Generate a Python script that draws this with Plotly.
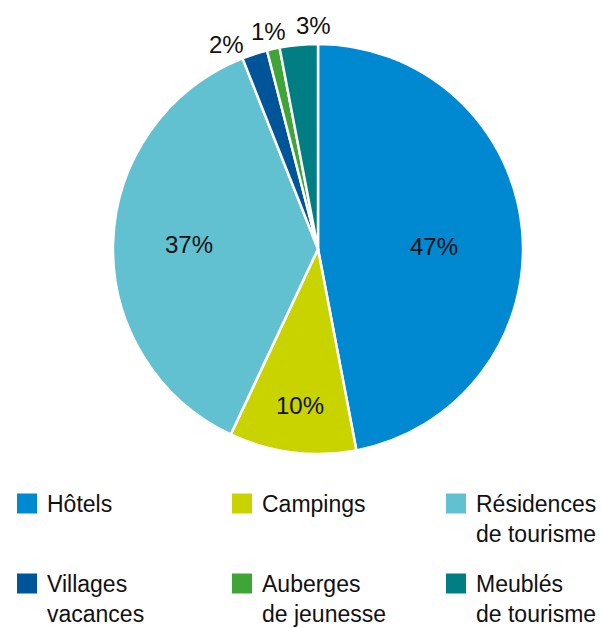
import math
import plotly.graph_objects as go

categories = ["Hôtels", "Campings", "Résidences de tourisme",
              "Villages vacances", "Auberges de jeunesse", "Meublés de tourisme"]
legend_labels = ["Hôtels", "Campings", "Résidences<br>de tourisme",
                 "Villages<br>vacances", "Auberges<br>de jeunesse", "Meublés<br>de tourisme"]
values = [47, 10, 37, 2, 1, 3]
colors = ["#0088D1", "#C9D300", "#62C1D0", "#005598", "#3FA536", "#007E83"]

# label placement styles (radius as fraction of pie radius, or outside) and pixel nudges
label_rfrac = [0.56, 0.75, 0.63, None, None, None]
label_xanchor = ["center", "center", "center", "right", "center", "left"]
label_xshift = [2, 1, 0, -8, -4, -5]
label_yshift = [-8, -4, 0, -8, 0, 2]

# legend grid (pixels): column left edges, row tops
legend_cols = [7, 222, 436, 7, 222, 436]
legend_rows = [482, 482, 482, 562, 562, 562]

W, H = 601, 628
CX, CY, R = 318, 249, 205
FONT = "Liberation Sans, Arial, Helvetica, sans-serif"

fig = go.Figure()
fig.add_trace(go.Pie(
    labels=categories,
    values=values,
    sort=False,
    direction="clockwise",
    rotation=0,
    marker=dict(colors=colors, line=dict(color="white", width=2.5)),
    textinfo="none",
    domain=dict(x=[(CX - R) / W, (CX + R) / W], y=[(H - CY - R) / H, (H - CY + R) / H]),
    showlegend=False,
    hoverinfo="skip",
))

legend_layouts = {}
for i, (name, col) in enumerate(zip(legend_labels, colors)):
    key = "legend" if i == 0 else f"legend{i + 1}"
    fig.add_trace(go.Scatter(
        x=[None], y=[None], mode="markers", name=name,
        marker=dict(symbol="square", size=16, color=col, line=dict(color=col, width=4)),
        showlegend=True, hoverinfo="skip", legend=key,
    ))
    legend_layouts[key] = dict(
        x=legend_cols[i] / W, y=1 - legend_rows[i] / H,
        xanchor="left", yanchor="top", valign="top",
        bgcolor="rgba(0,0,0,0)", borderwidth=0,
        font=dict(family=FONT, size=23, color="#111111"),
        itemclick=False, itemdoubleclick=False,
    )

# percentage labels positioned at slice mid-angles
total = sum(values)
cum = 0
annotations = []
for v, rf, xa, dx, dy in zip(values, label_rfrac, label_xanchor, label_xshift, label_yshift):
    mid = (cum + v / 2) / total * 2 * math.pi
    cum += v
    pct = f"{round(v / total * 100)}%"
    if rf is not None:
        rr = rf * R
        ya = "middle"
    else:
        rr = R + 2
        ya = "bottom"
    px = CX + rr * math.sin(mid)
    py = CY - rr * math.cos(mid)
    annotations.append(dict(
        x=px / W, y=1 - py / H, xref="paper", yref="paper",
        text=pct, showarrow=False, xanchor=xa, yanchor=ya,
        xshift=dx, yshift=dy,
        font=dict(family=FONT, size=24, color="#111111"),
    ))

fig.update_layout(
    width=W, height=H,
    margin=dict(l=0, r=0, t=0, b=0, autoexpand=False),
    paper_bgcolor="white",
    plot_bgcolor="white",
    xaxis=dict(visible=False),
    yaxis=dict(visible=False),
    annotations=annotations,
    showlegend=True,
    **legend_layouts,
)

fig.write_html("out.html")
